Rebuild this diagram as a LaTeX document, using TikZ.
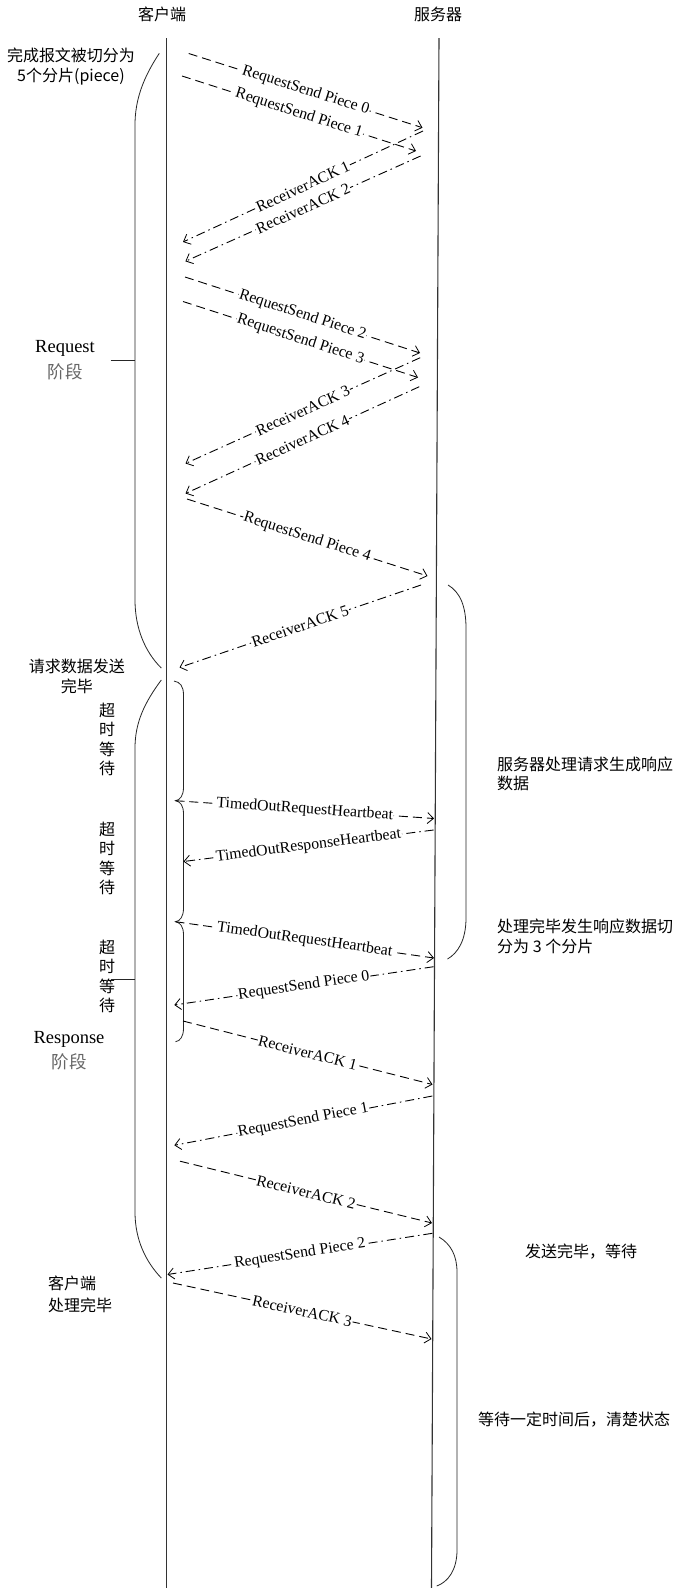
\documentclass[tikz,border=0pt]{standalone}
\usepackage{fontspec}
\setmainfont{Liberation Serif}
\newfontfamily\cjk{Noto Sans CJK SC}
\usetikzlibrary{arrows.meta}
\begin{document}
\begin{tikzpicture}[x=1pt,y=-1pt,
  life/.style={line width=1.1pt,draw=black!80},
  brace/.style={line width=0.8pt,draw=black!85},
  msg/.style={-{Straight Barb[length=6pt,width=11pt,line width=0.8pt]},line width=0.9pt,dash pattern=on 9pt off 5pt},
  ack/.style={-{Straight Barb[length=6pt,width=11pt,line width=0.8pt]},line width=0.9pt,dash pattern=on 9pt off 4pt on 1.5pt off 4pt},
  lbl/.style={sloped,fill=white,inner sep=0.8pt,font=\fontsize{15.8}{17}\selectfont},
  zh/.style={font=\cjk\fontsize{16}{19.5}\selectfont,inner sep=0pt,align=center},
  zhl/.style={font=\cjk\fontsize{16}{19.5}\selectfont,inner sep=0pt,anchor=west},
  phase/.style={font=\fontsize{18.5}{20}\selectfont,inner sep=0pt},
  phasezh/.style={font=\cjk\fontsize{17.5}{20}\selectfont,inner sep=0pt,text=black!60}
]
\useasboundingbox (0,0) rectangle (681,1588);
\fill[white] (0,0) rectangle (681,1588);

% headers
\node[zh] (hc) at (162,14) {客户端};
\node[zh] (hs) at (438,14) {服务器};

% lifelines
\coordinate (cT) at (166.7,38);
\coordinate (cB) at (166.7,1588);
\coordinate (sT) at (439,38);
\coordinate (sB) at (431.5,1588);
\draw[life] (cT) -- (cB);
\draw[life] (sT) -- (sB);

% left texts
\node[zh] (t1) at (71,66.5) {完成报文被切分为\\5个分片(piece)};
\node[phase] (req) at (65,348) {Request};
\node[phasezh] (req2) at (65,372) {阶段};
\node[zh] (t2) at (76.8,676.5) {请求数据发送\\完毕};
\node[zh] (w1) at (107,739.5) {超\\时\\等\\待};
\node[zh] (w2) at (107,858.5) {超\\时\\等\\待};
\node[zh] (w3) at (107,976.5) {超\\时\\等\\待};
\node[phase] (resp) at (69,1039) {Response};
\node[phasezh] (resp2) at (69,1062) {阶段};
\node[zhl] (t3) at (48,1283) {客户端};
\node[zhl] (t4) at (48,1305) {处理完毕};

% right texts
\node[zhl] (r1) at (497,764) {服务器处理请求生成响应};
\node[zhl] (r2) at (497,783.5) {数据};
\node[zhl] (r3) at (497,926.5) {处理完毕发生响应数据切};
\node[zhl] (r4) at (497,946) {分为 3 个分片};
\node[zh] (r5) at (581,1252) {发送完毕，等待};
\node[zhl] (r6) at (478,1420) {等待一定时间后，清楚状态};

% big left braces
\coordinate (bq1) at (159.3,53.3);
\coordinate (bq2) at (161.3,668);
\coordinate (bqt) at (110.6,360);
\coordinate (bqm) at (135,360);
\draw[brace] (bq1) .. controls (143,78) and (135,100) .. (135,125) -- (135,600) .. controls (135,628) and (145,652) .. (bq2);
\draw[brace] (bqt) -- (bqm);

\coordinate (br1) at (161.3,680);
\coordinate (br2) at (161.3,1278);
\coordinate (brt) at (110.6,979.5);
\coordinate (brm) at (135,979.5);
\draw[brace] (br1) .. controls (145,702) and (135,722) .. (135,748) -- (135,1212) .. controls (135,1240) and (146,1262) .. (br2);
\draw[brace] (brt) -- (brm);

% small client braces
\coordinate (sb0) at (174,681);
\coordinate (sb1) at (175.5,800.7);
\coordinate (sb2) at (175.5,921.7);
\coordinate (sb3) at (175.5,1041.7);
\draw[brace] (sb0) .. controls (180,682) and (183.5,686) .. (183.5,695) -- (183.5,787)
  .. controls (183.5,796) and (180,800) .. (sb1)
  .. controls (180,801.5) and (183.5,805) .. (183.5,814) -- (183.5,908)
  .. controls (183.5,917) and (180,921) .. (sb2)
  .. controls (180,922.5) and (183.5,926) .. (183.5,935) -- (183.5,1028)
  .. controls (183.5,1037) and (180,1041) .. (sb3);

% right braces
\coordinate (rb1) at (448,585);
\coordinate (rb2) at (447.5,959);
\draw[brace] (rb1) .. controls (460,592) and (466,606) .. (466,628) -- (466,918) .. controls (466,940) and (458,953) .. (rb2);
\coordinate (rb3) at (439,1237);
\coordinate (rb4) at (436.7,1586);
\draw[brace] (rb3) .. controls (451,1244) and (457,1256) .. (457,1272) -- (457,1550) .. controls (457,1570) and (448,1582) .. (rb4);

% request phase messages
\coordinate (a1s) at (188.7,53.5);  \coordinate (a1e) at (422.5,127.7);
\coordinate (a2s) at (182,76);      \coordinate (a2e) at (416,151);
\coordinate (a3s) at (423,131);     \coordinate (a3e) at (183,242);
\coordinate (a4s) at (420.6,156);   \coordinate (a4e) at (185.4,261.3);
\coordinate (a5s) at (185,277);     \coordinate (a5e) at (420,353);
\coordinate (a6s) at (183,301.5);   \coordinate (a6e) at (418,377.5);
\coordinate (a7s) at (420.2,357.7); \coordinate (a7e) at (185.5,463.5);
\coordinate (a8s) at (419.3,386.7); \coordinate (a8e) at (185.5,493.5);
\coordinate (a9s) at (187,499);     \coordinate (a9e) at (427.5,576);
\coordinate (a10s) at (421,585);    \coordinate (a10e) at (179.5,667.5);

\draw[msg] (a1s) -- node[lbl] {RequestSend Piece 0} (a1e);
\draw[msg] (a2s) -- node[lbl] {RequestSend Piece 1} (a2e);
\draw[ack] (a3s) -- node[lbl] {ReceiverACK 1} (a3e);
\draw[ack] (a4s) -- node[lbl] {ReceiverACK 2} (a4e);
\draw[msg] (a5s) -- node[lbl] {RequestSend Piece 2} (a5e);
\draw[msg] (a6s) -- node[lbl] {RequestSend Piece 3} (a6e);
\draw[ack] (a7s) -- node[lbl] {ReceiverACK 3} (a7e);
\draw[ack] (a8s) -- node[lbl] {ReceiverACK 4} (a8e);
\draw[msg] (a9s) -- node[lbl] {RequestSend Piece 4} (a9e);
\draw[ack] (a10s) -- node[lbl] {ReceiverACK 5} (a10e);

% response phase messages
\coordinate (b1s) at (sb1);          \coordinate (b1e) at (434,818.5);
\coordinate (b2s) at (433.6,830);    \coordinate (b2e) at (183.5,861.5);
\coordinate (b3s) at (sb2);          \coordinate (b3e) at (434,958);
\coordinate (b4s) at (433.6,966.7);  \coordinate (b4e) at (174.3,1005);
\coordinate (b5s) at (183,1021);     \coordinate (b5e) at (432.5,1084.5);
\coordinate (b6s) at (432.3,1096);   \coordinate (b6e) at (174.3,1145.3);
\coordinate (b7s) at (180,1161.2);   \coordinate (b7e) at (432,1223);
\coordinate (b8s) at (432.3,1233.3); \coordinate (b8e) at (167.5,1274.5);
\coordinate (b9s) at (173,1283);     \coordinate (b9e) at (431.5,1339);

\draw[msg] (b1s) -- node[lbl] {TimedOutRequestHeartbeat} (b1e);
\draw[ack] (b2s) -- node[lbl] {TimedOutResponseHeartbeat} (b2e);
\draw[msg] (b3s) -- node[lbl] {TimedOutRequestHeartbeat} (b3e);
\draw[ack] (b4s) -- node[lbl] {RequestSend Piece 0} (b4e);
\draw[msg] (b5s) -- node[lbl] {ReceiverACK 1} (b5e);
\draw[ack] (b6s) -- node[lbl] {RequestSend Piece 1} (b6e);
\draw[msg] (b7s) -- node[lbl] {ReceiverACK 2} (b7e);
\draw[ack] (b8s) -- node[lbl] {RequestSend Piece 2} (b8e);
\draw[msg] (b9s) -- node[lbl] {ReceiverACK 3} (b9e);
\end{tikzpicture}
\end{document}
